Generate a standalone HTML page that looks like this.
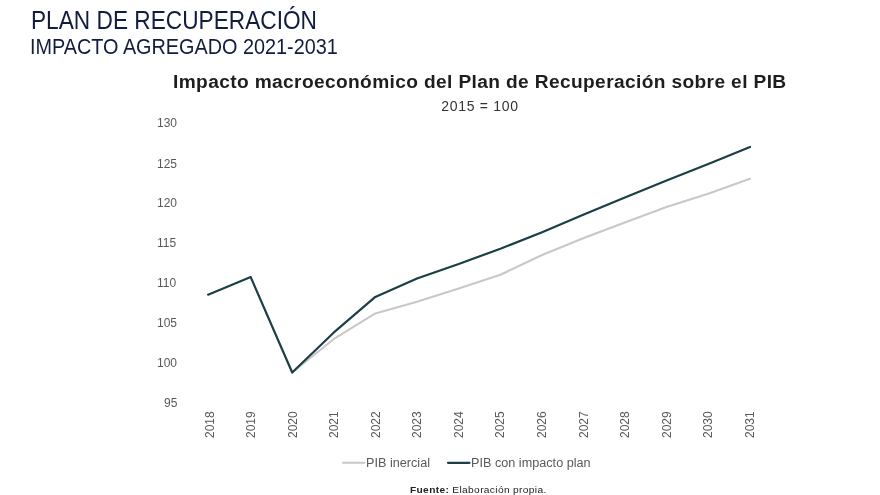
<!DOCTYPE html>
<html lang="es">
<head>
<meta charset="utf-8">
<title>Plan de Recuperación</title>
<style>
html,body{margin:0;padding:0;background:#fff;}
body{width:880px;height:495px;position:relative;overflow:hidden;font-family:"Liberation Sans",sans-serif;}
.t{position:absolute;white-space:nowrap;line-height:1;transform-origin:0 0;}
#h1{left:31px;top:8.2px;font-size:25.5px;color:#111c3e;transform:scaleX(0.889);}
#h2{left:30.2px;top:36.1px;font-size:22px;color:#111c3e;transform:scaleX(0.901);}
#ct{left:173.2px;top:73.2px;font-size:18px;font-weight:bold;color:#1e1e1e;letter-spacing:0.35px;transform:scaleX(1.063);}
#st{left:441.2px;top:99.2px;font-size:14px;color:#333;letter-spacing:0.7px;}
.yl{font-size:12px;color:#595959;left:157px;}
.xl{font-size:12px;color:#595959;transform:rotate(-90deg);transform-origin:0 0;}
.lg{font-size:12px;color:#595959;transform:scaleX(1.055);}
#ft{left:410.2px;top:485.4px;font-size:9.5px;color:#222;letter-spacing:0.33px;transform:scaleX(1.07);}
svg{position:absolute;left:0;top:0;}
</style>
</head>
<body>
<div class="t" id="h1">PLAN DE RECUPERACIÓN</div>
<div class="t" id="h2">IMPACTO AGREGADO 2021-2031</div>
<div class="t" id="ct">Impacto macroeconómico del Plan de Recuperación sobre el PIB</div>
<div class="t" id="st">2015 = 100</div>

<div class="t yl" style="top:117.1px">130</div>
<div class="t yl" style="top:157.5px">125</div>
<div class="t yl" style="top:197.4px">120</div>
<div class="t yl" style="top:237.3px">115</div>
<div class="t yl" style="top:277.2px">110</div>
<div class="t yl" style="top:317.1px">105</div>
<div class="t yl" style="top:357.0px">100</div>
<div class="t yl" style="top:396.9px;left:164px">95</div>

<svg width="880" height="495" viewBox="0 0 880 495">
<polyline fill="none" stroke="#c8c8c8" stroke-width="2.1" stroke-linejoin="round" stroke-linecap="round"
 points="292.2,372.5 333.6,339.2 375.3,313.4 417,301.7 458.7,288.5 500.4,274.8 542.1,255 583.8,238 625.5,222.2 667.2,206.8 708.9,193.5 750,178.8"/>
<polyline fill="none" stroke="#1c3f45" stroke-width="2.2" stroke-linejoin="round" stroke-linecap="round"
 points="208.1,294.7 250.7,277.1 292.2,372.5 333.6,332.7 375.3,296.9 417,278.5 458.7,264 500.4,248.7 542.1,232.3 583.8,214.5 625.5,197.3 667.2,180.3 708.9,163.8 750,146.9"/>
<line x1="343" y1="462.8" x2="364.5" y2="462.8" stroke="#c8c8c8" stroke-width="2.1" stroke-linecap="round"/>
<line x1="448" y1="462.8" x2="469.5" y2="462.8" stroke="#1c3f45" stroke-width="2.2" stroke-linecap="round"/>
</svg>

<div class="t xl" style="left:203.7px;top:438px">2018</div>
<div class="t xl" style="left:245.2px;top:438px">2019</div>
<div class="t xl" style="left:286.8px;top:438px">2020</div>
<div class="t xl" style="left:328.3px;top:438px">2021</div>
<div class="t xl" style="left:369.8px;top:438px">2022</div>
<div class="t xl" style="left:411.4px;top:438px">2023</div>
<div class="t xl" style="left:452.9px;top:438px">2024</div>
<div class="t xl" style="left:494.4px;top:438px">2025</div>
<div class="t xl" style="left:535.9px;top:438px">2026</div>
<div class="t xl" style="left:577.5px;top:438px">2027</div>
<div class="t xl" style="left:619.0px;top:438px">2028</div>
<div class="t xl" style="left:660.5px;top:438px">2029</div>
<div class="t xl" style="left:702.1px;top:438px">2030</div>
<div class="t xl" style="left:743.6px;top:438px">2031</div>

<div class="t lg" style="left:365.9px;top:456.5px">PIB inercial</div>
<div class="t lg" style="left:470.6px;top:456.5px">PIB con impacto plan</div>
<div class="t" id="ft"><b>Fuente:</b> Elaboración propia.</div>
</body>
</html>
